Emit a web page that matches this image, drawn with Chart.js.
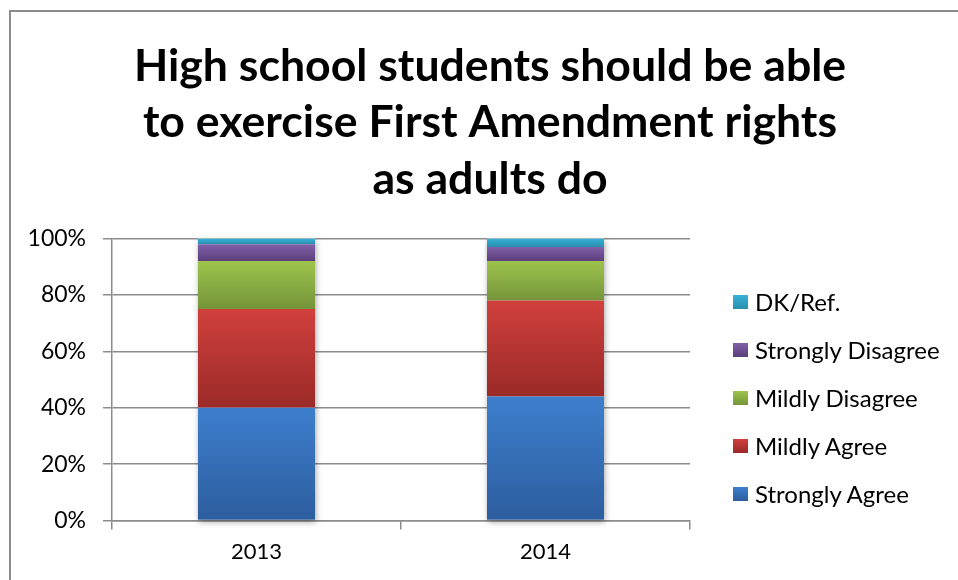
<!DOCTYPE html>
<html>
<head>
<meta charset="utf-8">
<script src="https://cdn.jsdelivr.net/npm/chart.js@4"></script>
<style>
  html, body { margin: 0; padding: 0; background: #fff; overflow: hidden; }
  #frame {
    position: absolute;
    left: 9px;
    top: 10px;
    border-left: 2px solid #8c8c8c;
    border-top: 2px solid #8c8c8c;
  }
  canvas { display: block; }
  #legend {
    position: absolute;
    left: 733px;
    top: 278px;
    font-family: Lato, "DejaVu Sans", sans-serif;
    font-size: 24px;
    color: #000;
  }
  .legend-row {
    display: flex;
    align-items: center;
    height: 47.9px;
    white-space: nowrap;
  }
  .legend-box {
    width: 15px;
    height: 14px;
    margin-right: 7px;
  }
</style>
</head>
<body>
<div id="frame">
  <canvas id="chart-rights" width="958" height="600"></canvas>
</div>
<div id="legend"></div>
<script>
const years = ["2013", "2014"];
const seriesNames = ["Strongly Agree", "Mildly Agree", "Mildly Disagree", "Strongly Disagree", "DK/Ref."];
const stronglyAgree = [40, 44];
const mildlyAgree = [35, 34];
const mildlyDisagree = [17, 14];
const stronglyDisagree = [6, 5];
const dkRef = [2, 3];
const yTicks = [0, 20, 40, 60, 80, 100];

// light top / dark bottom for each band
const shades = [
    ["#3d7fcd", "#2d5d9e"],
    ["#d0403c", "#9a2a28"],
    ["#9dc44c", "#75943a"],
    ["#8060a8", "#5c3e7c"],
    ["#36b2d8", "#2a8eae"],
];

function bandGradient(top, bottom) {
    return (context) => {
        const chart = context.chart;
        if (!chart.chartArea || context.type !== "data") return top;
        const y = chart.scales.y;
        const ds = context.datasetIndex;
        const i = context.dataIndex;
        let start = 0;
        for (let k = 0; k < ds; k++) start += chart.data.datasets[k].data[i];
        const end = start + chart.data.datasets[ds].data[i];
        const g = chart.ctx.createLinearGradient(0, y.getPixelForValue(end), 0, y.getPixelForValue(start));
        g.addColorStop(0, top);
        g.addColorStop(1, bottom);
        return g;
    };
}

// soft drop shadow behind each whole stack
const stackShadow = {
    id: "stackShadow",
    beforeDatasetsDraw(chart) {
        const ctx = chart.ctx;
        const first = chart.getDatasetMeta(0).data;
        const last = chart.getDatasetMeta(chart.data.datasets.length - 1).data;
        ctx.save();
        ctx.shadowColor = "rgba(0,0,0,0.35)";
        ctx.shadowBlur = 6;
        ctx.shadowOffsetX = 1;
        ctx.shadowOffsetY = 2;
        ctx.fillStyle = "#fff";
        first.forEach((bar, i) => {
            const top = last[i].y;
            ctx.fillRect(bar.x - bar.width / 2, top, bar.width, bar.base - top);
        });
        ctx.restore();
    },
};

const values = [stronglyAgree, mildlyAgree, mildlyDisagree, stronglyDisagree, dkRef];
const gridColor = "#8c8c8c";
const font = "Lato, 'DejaVu Sans', sans-serif";

const chart = new Chart(document.getElementById("chart-rights").getContext("2d"), {
    type: "bar",
    data: {
        labels: years,
        datasets: values.map((data, k) => ({
            label: seriesNames[k],
            data: data,
            backgroundColor: bandGradient(shades[k][0], shades[k][1]),
            borderWidth: 0,
            categoryPercentage: 1,
            barPercentage: 0.405,
        })),
    },
    options: {
        responsive: false,
        animation: false,
        layout: { padding: { left: 0, right: 0, top: 0, bottom: 38 } },
        scales: {
            x: {
                stacked: true,
                grid: { display: true, drawOnChartArea: false, offset: true, color: gridColor, lineWidth: 1.5, tickLength: 9 },
                border: { display: true, color: gridColor, width: 1.5 },
                ticks: { color: "#000", padding: 9, font: { family: font, size: 22 } },
            },
            y: {
                stacked: true,
                min: 0,
                max: 100,
                afterBuildTicks: (scale) => {
                    scale.ticks = yTicks.map((v) => ({ value: v }));
                },
                afterFit: (scale) => {
                    scale.width = 101;
                },
                grid: { color: gridColor, lineWidth: 1.5, tickLength: 9 },
                border: { display: true, color: gridColor, width: 1.5 },
                ticks: { color: "#000", padding: 17, font: { family: font, size: 23 }, callback: (v) => v + "%" },
            },
            // empty strip on the right that the legend sits in
            legendSpace: {
                type: "linear",
                axis: "y",
                position: "right",
                display: true,
                grid: { display: false },
                border: { display: false },
                ticks: { display: false },
                afterFit: (scale) => {
                    scale.width = 279;
                },
            },
        },
        plugins: {
            title: {
                display: true,
                text: ["High school students should be able", "to exercise First Amendment rights", "as adults do"],
                color: "#000",
                font: { family: font, size: 44.6, weight: "bold", lineHeight: 1.267 },
                padding: { top: 26, bottom: 31 },
            },
            legend: { display: false },
            tooltip: { enabled: false },
        },
    },
    plugins: [stackShadow],
});

// legend, top entry is the top band
const legend = document.getElementById("legend");
chart.data.datasets
    .map((ds, k) => ({ label: ds.label, k }))
    .reverse()
    .forEach(({ label, k }) => {
        legend.innerHTML += `
        <div class="legend-row">
          <span class="legend-box" style="background: linear-gradient(${shades[k][0]}, ${shades[k][1]})"></span>
          <span>${label}</span>
        </div>`;
    });
</script>
</body>
</html>
